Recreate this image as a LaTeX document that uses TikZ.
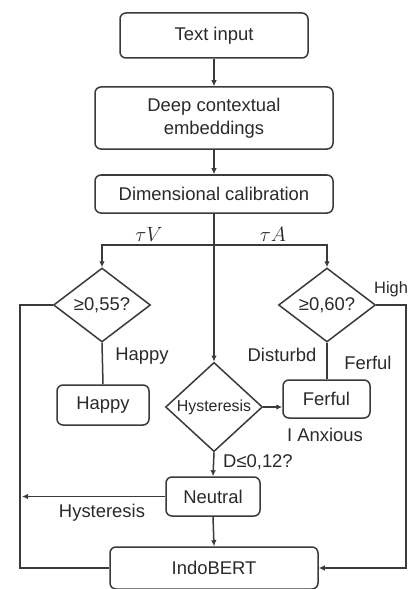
\documentclass[tikz,border=0pt]{standalone}
\usepackage{fontspec}
\setmainfont{Liberation Sans}
\usetikzlibrary{shapes.geometric,arrows.meta}
\definecolor{linec}{HTML}{3A3A3A}
\definecolor{textc}{HTML}{2A2A2A}
\begin{document}
\begin{tikzpicture}[x=1bp,y=-1bp,
  box/.style={draw=linec, line width=1.5bp, rounded corners=6bp, inner sep=0pt,
    font=\fontsize{18.5}{23}\selectfont, text=textc, align=center},
  dia/.style={draw=linec, diamond, line width=1.5bp, inner sep=0pt,
    font=\fontsize{18.5}{23}\selectfont, text=textc},
  lbl/.style={inner sep=0pt, font=\fontsize{18.5}{23}\selectfont, text=textc},
  conn/.style={draw=linec, line width=1.5bp},
  arr/.style={conn, -{Latex[length=6bp,width=5.5bp]}}
]
\useasboundingbox[fill=white] (0,0) rectangle (409,589);

\node[box, minimum width=188bp, minimum height=45bp] (txt) at (214,35.5) {Text input};
\node[box, minimum width=238bp, minimum height=62bp] (deep) at (214,118) {Deep contextual\\embeddings};
\node[box, minimum width=238bp, minimum height=38bp] (dim) at (214,194) {Dimensional calibration};

\node[dia, minimum width=97bp, minimum height=74bp] (d1) at (102,305) {≥0,55?};
\node[dia, minimum width=97bp, minimum height=74bp] (d2) at (327,305) {≥0,60?};
\node[dia, minimum width=97bp, minimum height=76bp, font=\fontsize{16}{19}\selectfont] (hyst) at (214,407) {Hysteresis};

\node[box, minimum width=92bp, minimum height=40bp] (happy) at (103,405) {Happy};
\node[box, minimum width=87bp, minimum height=38bp] (fer) at (326.5,399) {Ferful};
\node[box, minimum width=94bp, minimum height=39bp] (neu) at (213,496.5) {Neutral};
\node[box, minimum width=208bp, minimum height=42bp] (indo) at (214,568) {IndoBERT};

\coordinate (split) at (214,245);
\coordinate (lc) at (20,568);
\coordinate (rc) at (406,568);
\coordinate (nl) at (22,496.5);

\draw[arr] (txt) -- (deep);
\draw[arr] (deep) -- (dim);
\draw[arr] (dim.south) -- (hyst.north);
\draw[arr] (split) -| (d1.north);
\draw[arr] (split) -| (d2.north);
\draw[conn] (d1.south) -- (happy.north);
\draw[conn] (d2.south) -- (d2.south |- fer.north);
\draw[conn] (d1.west) -| (lc) -- (indo.west);
\draw[arr] (d2.east) -| (rc) -- (indo.east);
\draw[arr] (hyst.east) -- (hyst.east -| fer.west);
\draw[arr] (hyst.south) -- (neu.north);
\draw[arr] (neu.west) -- (nl);
\draw[arr] (neu.south) -- (indo.north);

\node[lbl, font=\fontsize{20}{22}\selectfont] (tv) at (149,234) {$\tau V$};
\node[lbl, font=\fontsize{20}{22}\selectfont] (ta) at (273,234) {$\tau A$};
\node[lbl] (lhappy) at (142,356) {Happy};
\node[lbl] (ldist) at (282,355) {Disturbd};
\node[lbl] (lfer) at (368,363) {Ferful};
\node[lbl, anchor=west, font=\fontsize{16.5}{18}\selectfont] (lhigh) at (374,289) {High};
\node[lbl] (lanx) at (325,435) {I Anxious};
\node[lbl, anchor=west] (ld) at (223,462) {D≤0,12?};
\node[lbl] (lhys) at (102,513) {Hysteresis};
\end{tikzpicture}
\end{document}
